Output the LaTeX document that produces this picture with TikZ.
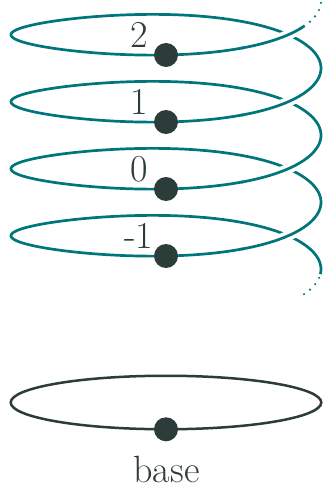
\documentclass[tikz,border=0pt]{standalone}
\definecolor{helixc}{HTML}{00767A}
\definecolor{darkc}{HTML}{2B3C39}
\tikzset{
  helix/.style={helixc, line width=2.7pt},
  helixdots/.style={helixc, line width=2.4pt, line cap=round, dash pattern=on 0pt off 7.5pt},
  gapper/.style={white, line width=10pt},
  bpoint/.style={circle, fill=darkc, draw=none, inner sep=0pt, minimum size=24pt},
  lab/.style={text=darkc, font=\fontsize{38}{40}\selectfont, anchor=base, inner sep=0pt},
  baseloop/.style={darkc, line width=2.5pt},
}
\begin{document}
\begin{tikzpicture}[x=1pt, y=-1pt]
\useasboundingbox (0,0) rectangle (323,489);
% helix
\draw[helix] plot[domain=-275:1143.5, samples=700, smooth]
  ({166+155*sin(\x)},{219+37*cos(\x)+3.8*sin(2*(\x))-0.186111*(\x)});
% over-crossings (front strand passes over back strand)
\foreach \k/\e in {0/72,360/432,720/792,1080/1140}{
  \draw[gapper] plot[domain=\k+30:\e, samples=40, smooth]
    ({166+155*sin(\x)},{219+37*cos(\x)+3.8*sin(2*(\x))-0.186111*(\x)});
  \draw[helix] plot[domain=\k+29:\e+1, samples=40, smooth]
    ({166+155*sin(\x)},{219+37*cos(\x)+3.8*sin(2*(\x))-0.186111*(\x)});
}
% dotted continuations
\draw[helixdots, dash phase=1pt] plot[domain=1143.5:1172, samples=40, smooth]
  ({166+155*sin(\x)},{219+37*cos(\x)+3.8*sin(2*(\x))-0.186111*(\x)});
\draw[helixdots, dash phase=3.5pt] plot[domain=-275:-299, samples=40, smooth]
  ({166+155*sin(\x)},{219+37*cos(\x)+3.8*sin(2*(\x))-0.186111*(\x)});
% points on the helix
\node[bpoint] (d2) at (166,55) {};
\node[bpoint] (d1) at (166,122) {};
\node[bpoint] (d0) at (166,189) {};
\node[bpoint] (dm1) at (166,256) {};
\node[lab] (l2) at (139,47.5) {2};
\node[lab] (l1) at (139,114.5) {1};
\node[lab] (l0) at (139,181.5) {0};
\node[lab] (lm1) at (138.5,248.5) {-1};
% base circle
\draw[baseloop] (166,402.5) ellipse [x radius=155.3pt, y radius=26.75pt];
\node[bpoint] (db) at (166,429.3) {};
\node[lab] (lb) at (166.5,482) {base};
\end{tikzpicture}
\end{document}
